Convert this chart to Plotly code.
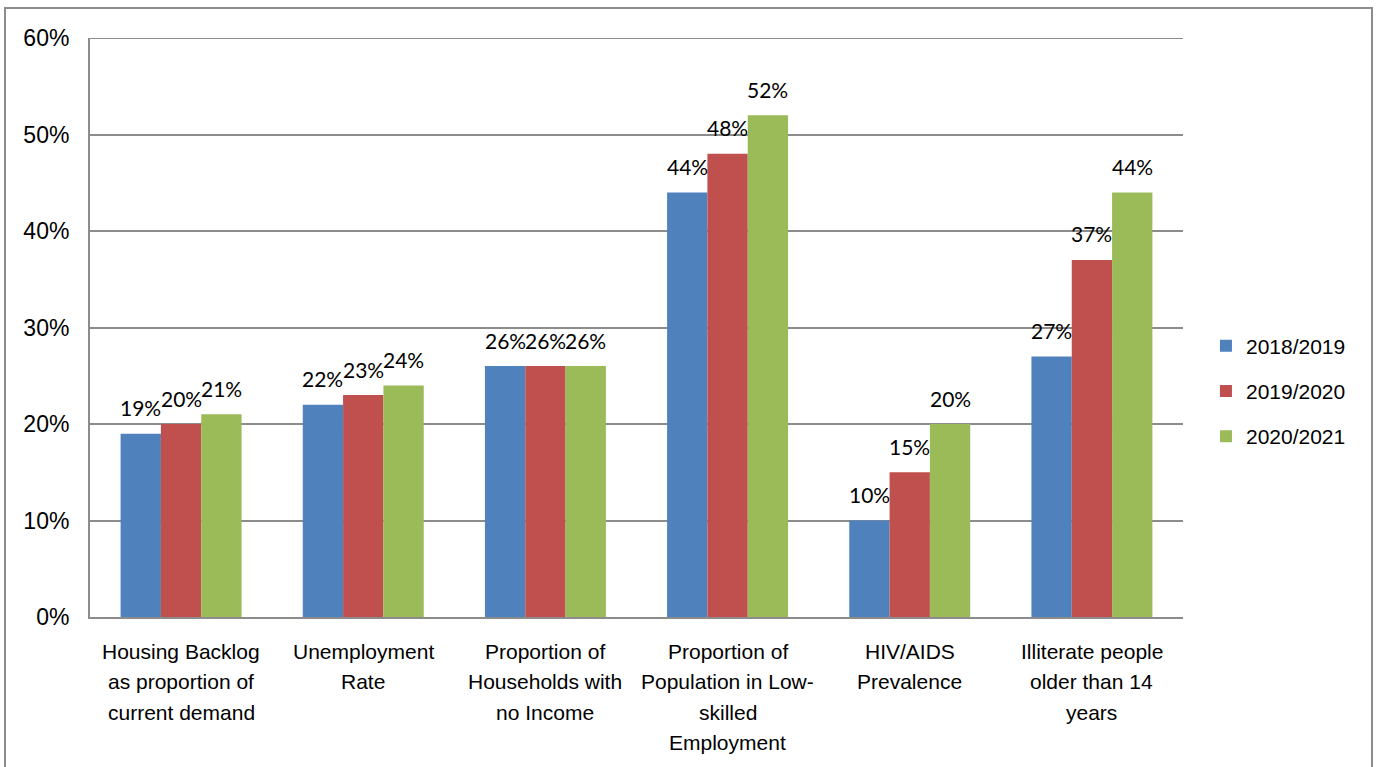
import plotly.graph_objects as go

categories = [
    "Housing Backlog<br>as proportion of<br>current demand",
    "Unemployment<br>Rate",
    "Proportion of<br>Households with<br>no Income",
    "Proportion of<br>Population in Low-<br>skilled<br>Employment",
    "HIV/AIDS<br>Prevalence",
    "Illiterate people<br>older than 14<br>years",
]
series_names = ["2018/2019", "2019/2020", "2020/2021"]
v2018 = [0.19, 0.22, 0.26, 0.44, 0.10, 0.27]
v2019 = [0.20, 0.23, 0.26, 0.48, 0.15, 0.37]
v2020 = [0.21, 0.24, 0.26, 0.52, 0.20, 0.44]
colors = ["#4F81BD", "#C0504D", "#9BBB59"]
yticks = [0, 0.1, 0.2, 0.3, 0.4, 0.5, 0.6]

W, H = 1378, 767
ml, mr, mt, mb = 90, 195, 38, 150
plot_w = W - ml - mr
plot_h = H - mt - mb
cat_w = plot_w / len(categories)
gap = 0.336
bar_w = cat_w * (1 - gap) / 3

fig = go.Figure()
annotations = []
for i, (name, vals) in enumerate(zip(series_names, [v2018, v2019, v2020])):
    fig.add_trace(go.Bar(
        x=categories, y=vals, name=name, marker_color=colors[i],
        marker_line_width=0, legendgroup=name,
    ))
    for c, v in zip(categories, vals):
        annotations.append(dict(
            x=c, y=v, xref="x", yref="y", text=f"{round(v*100)}%",
            showarrow=False, xshift=(i - 1) * bar_w, yshift=26,
            yanchor="middle", font=dict(family="Lato, Carlito, sans-serif", size=21, color="#000"),
        ))

# category labels, one annotation per line for Excel-like line spacing
for c in categories:
    for j, line in enumerate(c.split("<br>")):
        annotations.append(dict(
            x=c, y=0, xref="x", yref="paper", text=line, showarrow=False,
            yanchor="middle", yshift=-(34 + j * 30.5),
            font=dict(family="Liberation Sans, Arial, sans-serif", size=21, color="#000"),
        ))

fig.update_layout(
    width=W, height=H,
    margin=dict(l=ml, r=mr, t=mt, b=mb),
    paper_bgcolor="white", plot_bgcolor="white",
    barmode="group", bargap=gap, bargroupgap=0,
    font=dict(family="Liberation Sans, Arial, sans-serif", size=20, color="#000"),
    legend=dict(
        x=1.021, y=(H - mb - 391) / plot_h, xanchor="left", yanchor="middle",
        font=dict(size=21), traceorder="grouped", tracegroupgap=15,
        itemwidth=30,
    ),
    annotations=annotations,
    shapes=[
        dict(
            type="rect", xref="paper", yref="paper",
            x0=(5 - ml) / plot_w, x1=(1372 - ml) / plot_w,
            y0=-0.4, y1=1 + (mt - 8) / plot_h,
            line=dict(color="#8c8c8c", width=2), fillcolor="rgba(0,0,0,0)", layer="below",
        ),
        dict(
            type="line", xref="paper", yref="y", x0=0, x1=1, y0=yticks[-1], y1=yticks[-1],
            line=dict(color="#8c8c8c", width=2), layer="below",
        ),
    ],
)
fig.update_yaxes(
    range=[0, 0.6], tickvals=yticks, tickformat=".0%",
    showgrid=True, gridcolor="#8c8c8c", gridwidth=2,
    showline=True, linecolor="#8c8c8c", linewidth=2,
    ticks="", ticklabelstandoff=14, zeroline=False,
    tickfont=dict(size=23),
)
fig.update_xaxes(
    showline=True, linecolor="#8c8c8c", linewidth=2,
    ticks="", showticklabels=False,
)
fig.write_html("out.html")
